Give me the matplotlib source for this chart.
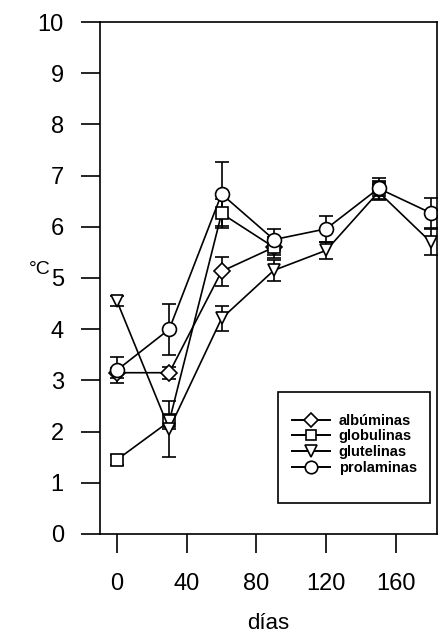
import numpy as np
import matplotlib
matplotlib.use("Agg")
import matplotlib.pyplot as plt
from matplotlib.lines import Line2D
from matplotlib.patches import Rectangle

plt.rcParams["font.family"] = ["Liberation Sans", "DejaVu Sans"]

dias = [0, 30, 60, 90, 120, 150, 180]
albuminas = [3.15, 3.15, 5.13, 5.6, np.nan, np.nan, np.nan]
albuminas_err = [0.1, 0.12, 0.28, 0.15, 0, 0, 0]
globulinas = [1.45, 2.2, 6.26, 5.6, np.nan, 6.75, np.nan]
globulinas_err = [0.1, 0.15, 0.28, 0.2, 0, 0.15, 0]
glutelinas = [4.55, 2.05, 4.21, 5.15, 5.54, 6.68, 5.7]
glutelinas_err = [0.1, 0.55, 0.25, 0.2, 0.17, 0.15, 0.25]
prolaminas = [3.2, 4.0, 6.64, 5.75, 5.96, 6.75, 6.27]
prolaminas_err = [0.25, 0.5, 0.62, 0.2, 0.25, 0.2, 0.3]

series = [("albúminas", albuminas, albuminas_err, "D", 8),
          ("globulinas", globulinas, globulinas_err, "s", 8),
          ("glutelinas", glutelinas, glutelinas_err, "v", 9),
          ("prolaminas", prolaminas, prolaminas_err, "o", 10)]

fig = plt.figure(figsize=(4.38, 6.36), dpi=100)
ax = fig.add_axes([0.228, 0.1604, 0.77, 0.805])

handles = []
for name, vals, err, mk, ms in series:
    ax.errorbar(dias, vals, yerr=err, color="black", lw=1.2, marker=mk, ms=ms,
                mfc="white", mec="black", mew=1.2, capsize=5, capthick=1.2,
                elinewidth=1.2)
    handles.append(Line2D([], [], color="black", lw=1.4, marker=mk, ms=ms * 0.9,
                          mfc="white", mec="black", mew=1.2, label=name))

ax.set_xlim(-9.8, 183.6)
ax.set_ylim(0, 10)
ax.set_xticks([0, 40, 80, 120, 160])
ax.set_yticks(range(0, 11))
ax.tick_params(axis="both", direction="out", length=14, width=1.2, labelsize=17)
ax.tick_params(axis="y", pad=12)
ax.tick_params(axis="x", pad=14)
for sp in ax.spines.values():
    sp.set_linewidth(1.2)

ax.set_xlabel("días", fontsize=16, labelpad=13)
ax.set_ylabel("°C", fontsize=14, rotation=0, va="center", ha="center")
ax.yaxis.set_label_coords(-0.178, 0.516)

# legend box drawn separately so the padding matches the original
ax.add_patch(Rectangle((0.528, 0.0605), 0.451, 0.2165, transform=ax.transAxes,
                       fill=True, facecolor="white", edgecolor="black", lw=1.2, zorder=4))
leg = ax.legend(handles=handles, loc="upper left", bbox_to_anchor=(0.57, 0.235),
                fontsize=10.5, frameon=False, handlelength=2.6, borderpad=0,
                borderaxespad=0, labelspacing=0.12, handletextpad=0.6)
leg.set_zorder(5)
for t in leg.get_texts():
    t.set_fontweight("bold")

fig.savefig("out.png", dpi=100)
